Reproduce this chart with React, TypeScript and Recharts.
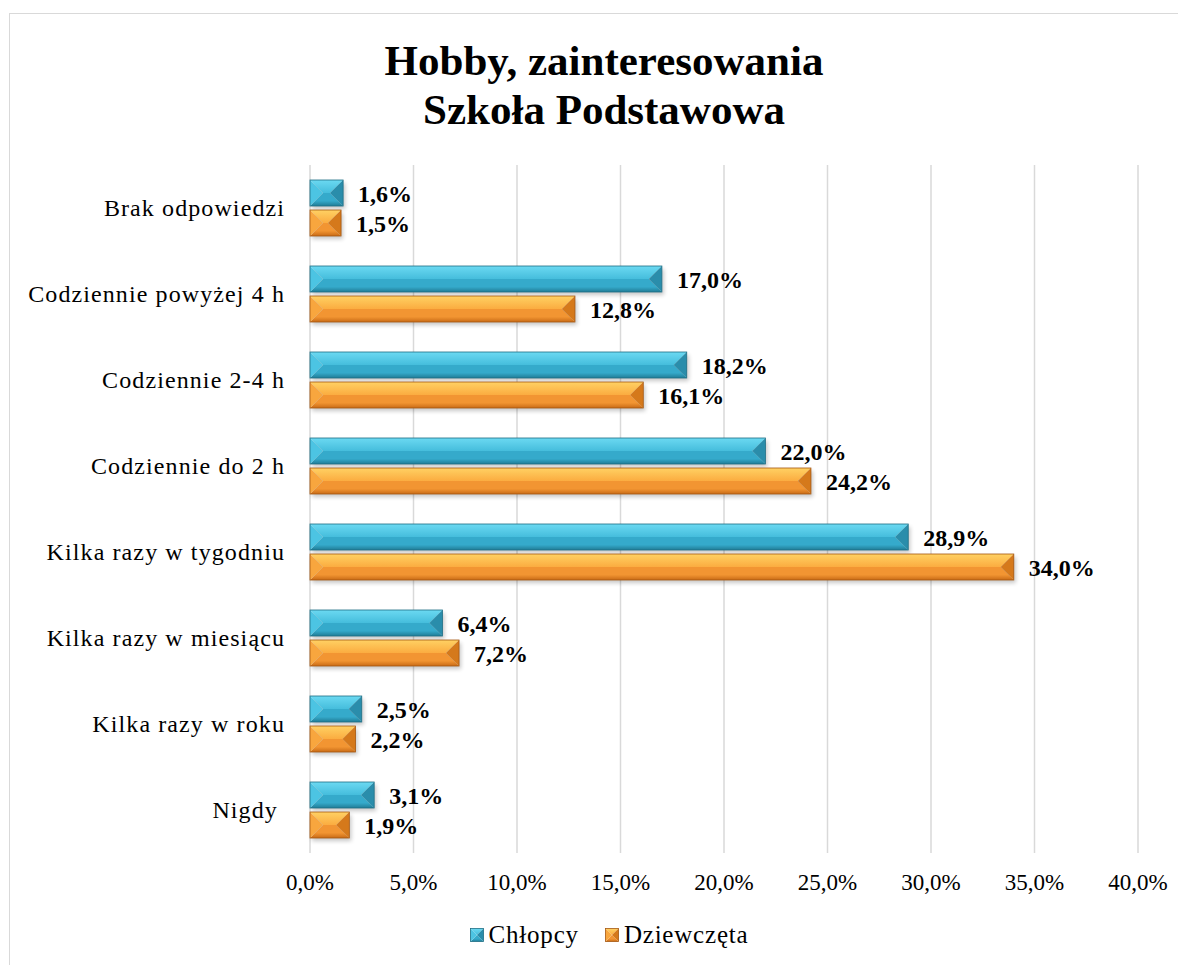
import React from 'react';
import { BarChart, Bar, XAxis, YAxis, CartesianGrid, LabelList } from 'recharts';

const categories = [
  'Brak odpowiedzi',
  'Codziennie powyżej 4 h',
  'Codziennie 2-4 h',
  'Codziennie do 2 h',
  'Kilka razy w tygodniu',
  'Kilka razy w miesiącu',
  'Kilka razy w roku',
  'Nigdy ',
];
const chlopcy = [1.6, 17.0, 18.2, 22.0, 28.9, 6.4, 2.5, 3.1];
const dziewczeta = [1.5, 12.8, 16.1, 24.2, 34.0, 7.2, 2.2, 1.9];
const xTicks = [0, 5, 10, 15, 20, 25, 30, 35, 40];
const titleLines = ['Hobby, zainteresowania', 'Szkoła Podstawowa'];
const seriesNames = ['Chłopcy', 'Dziewczęta'];

const data = categories.map((name, i) => ({ name, chlopcy: chlopcy[i], dziewczeta: dziewczeta[i] }));

const FONT = "'Liberation Serif', 'Times New Roman', serif";
const fmt = (v: number) => v.toFixed(1).replace('.', ',') + '%';

type Pal = { id: string; top1: string; top2: string; bot1: string; bot2: string; left: string; right: string; edge: string };
const BLUE: Pal = { id: 'b', top1: '#6bd9f2', top2: '#45bddc', bot1: '#35aacb', bot2: '#207c96', left: '#4cc4e3', right: '#2a8dab', edge: '#1f6f85' };
const ORANGE: Pal = { id: 'o', top1: '#ffd163', top2: '#fbac40', bot1: '#f29532', bot2: '#c96b16', left: '#f8a63e', right: '#d5791b', edge: '#a65811' };

function bevel(p: Pal, x: number, y: number, w: number, h: number, withShadow: boolean) {
  if (!(w > 0) || !(h > 0)) return null;
  const d = Math.min(h / 2, w / 2);
  const gt = `gt-${p.id}`;
  const gb = `gb-${p.id}`;
  return (
    <g>
      <defs>
        <linearGradient id={gt} x1="0" y1="0" x2="0" y2="1">
          <stop offset="0" stopColor={p.top1} />
          <stop offset="1" stopColor={p.top2} />
        </linearGradient>
        <linearGradient id={gb} x1="0" y1="0" x2="0" y2="1">
          <stop offset="0" stopColor={p.bot1} />
          <stop offset="0.6" stopColor={p.bot1} />
          <stop offset="1" stopColor={p.bot2} />
        </linearGradient>
        <filter id="sh" x="-10%" y="-30%" width="130%" height="180%">
          <feGaussianBlur stdDeviation="2" />
        </filter>
      </defs>
      {withShadow && (
        <rect x={x + 2} y={y + 3} width={w} height={h} fill="#000" opacity={0.22} filter="url(#sh)" />
      )}
      <polygon points={`${x},${y} ${x + w},${y} ${x + w - d},${y + h / 2} ${x + d},${y + h / 2}`} fill={`url(#${gt})`} />
      <polygon points={`${x + d},${y + h / 2} ${x + w - d},${y + h / 2} ${x + w},${y + h} ${x},${y + h}`} fill={`url(#${gb})`} />
      <polygon points={`${x},${y} ${x + d},${y + h / 2} ${x},${y + h}`} fill={p.left} />
      <polygon points={`${x + w},${y} ${x + w},${y + h} ${x + w - d},${y + h / 2}`} fill={p.right} />
      <rect x={x} y={y} width={w} height={h} fill="none" stroke={p.edge} strokeWidth={0.8} />
    </g>
  );
}

const BlueShape = (props: any) => bevel(BLUE, props.x, props.y, props.width, props.height, true);
const OrangeShape = (props: any) => bevel(ORANGE, props.x, props.y, props.width, props.height, true);

const YTick = (props: any) => {
  const { y, payload } = props;
  return (
    <text
      x={277}
      y={y}
      dy="0.35em"
      textAnchor="end"
      fontFamily={FONT}
      fontSize={24}
      letterSpacing={1.1}
      fill="#000"
      style={{ whiteSpace: 'pre' }}
    >
      {payload.value}
    </text>
  );
};

const XTick = (props: any) => {
  const { x, payload } = props;
  return (
    <text x={x} y={874} dy="0.35em" textAnchor="middle" fontFamily={FONT} fontSize={23} fill="#000">
      {fmt(payload.value)}
    </text>
  );
};

const LegendIcon = ({ p }: { p: Pal }) => (
  <svg width={14} height={14} style={{ marginRight: 5 }}>
    {bevel({ ...p, id: p.id + 'L' }, 0.5, 0.5, 13, 13, false)}
  </svg>
);

export default function App() {
  return (
    <div style={{ position: 'relative', width: 1178, height: 957, overflow: 'hidden', background: '#fff' }}>
      <div
        style={{
          position: 'absolute',
          left: 1,
          top: 5,
          width: 1300,
          height: 1100,
          border: '1.5px solid #d9d9d9',
          boxSizing: 'border-box',
        }}
      />
      <div
        style={{
          position: 'absolute',
          left: 0,
          top: 28,
          width: 1192,
          textAlign: 'center',
          fontFamily: FONT,
          fontWeight: 'bold',
          fontSize: 43,
          lineHeight: '49px',
          color: '#000',
        }}
      >
        {titleLines.map((t) => (
          <div key={t}>{t}</div>
        ))}
      </div>
      <div style={{ position: 'absolute', left: 0, top: 0 }}>
        <BarChart
          width={1178}
          height={957}
          data={data}
          layout="vertical"
          margin={{ top: 157, right: 48, bottom: 62, left: 0 }}
          barSize={26}
          barGap={4}
        >
          <CartesianGrid horizontal={false} vertical stroke="#d9d9d9" strokeWidth={1.5} />
          <XAxis
            type="number"
            domain={[0, 40]}
            ticks={xTicks}
            axisLine={false}
            tickLine={false}
            tick={<XTick />}
            height={50}
            interval={0}
          />
          <YAxis
            type="category"
            dataKey="name"
            width={302}
            axisLine={false}
            tickLine={false}
            tick={<YTick />}
            interval={0}
          />
          <Bar dataKey="chlopcy" name={seriesNames[0]} shape={<BlueShape />} isAnimationActive={false}>
            <LabelList
              dataKey="chlopcy"
              position="right"
              offset={15}
              formatter={(v: any) => fmt(Number(v))}
              style={{ fontFamily: FONT, fontWeight: 'bold', fontSize: 24, fill: '#000' }}
            />
          </Bar>
          <Bar dataKey="dziewczeta" name={seriesNames[1]} shape={<OrangeShape />} isAnimationActive={false}>
            <LabelList
              dataKey="dziewczeta"
              position="right"
              offset={15}
              formatter={(v: any) => fmt(Number(v))}
              style={{ fontFamily: FONT, fontWeight: 'bold', fontSize: 24, fill: '#000' }}
            />
          </Bar>
        </BarChart>
      </div>
      <div
        style={{
          position: 'absolute',
          left: 0,
          width: 1202,
          top: 913,
          fontFamily: FONT,
          fontSize: 25,
          letterSpacing: 0.8,
          color: '#000',
          whiteSpace: 'nowrap',
          display: 'flex',
          justifyContent: 'center',
          alignItems: 'center',
        }}
      >
        <span style={{ display: 'inline-flex', alignItems: 'center' }}>
          <LegendIcon p={BLUE} />
          {seriesNames[0]}
        </span>
        <span style={{ display: 'inline-flex', alignItems: 'center', marginLeft: 26 }}>
          <LegendIcon p={ORANGE} />
          {seriesNames[1]}
        </span>
      </div>
    </div>
  );
}
